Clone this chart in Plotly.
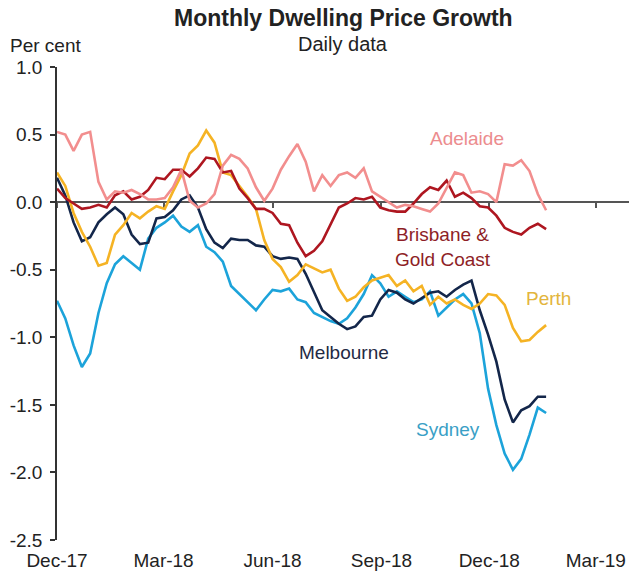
import pandas as pd
import plotly.graph_objects as go

# ---- data (weekly readings, per cent) ----
dates = pd.date_range("2017-12-01", periods=60, freq="7D")

sydney = [-0.73, -0.86, -1.06, -1.22, -1.12, -0.82, -0.60, -0.46, -0.40, -0.45,
          -0.50, -0.27, -0.19, -0.15, -0.10, -0.18, -0.22, -0.17, -0.33, -0.37,
          -0.44, -0.62, -0.68, -0.74, -0.80, -0.72, -0.65, -0.66, -0.64, -0.72,
          -0.74, -0.82, -0.85, -0.88, -0.90, -0.86, -0.78, -0.68, -0.54, -0.60,
          -0.70, -0.66, -0.70, -0.74, -0.72, -0.66, -0.84, -0.78, -0.72, -0.68,
          -0.75, -0.97, -1.38, -1.65, -1.86, -1.98, -1.90, -1.72, -1.52, -1.56]

melbourne = [0.18, 0.05, -0.15, -0.29, -0.26, -0.15, -0.09, -0.04, -0.09, -0.24,
             -0.31, -0.30, -0.12, -0.11, -0.06, 0.02, 0.05, -0.04, -0.20, -0.30,
             -0.34, -0.27, -0.28, -0.28, -0.32, -0.33, -0.40, -0.42, -0.41, -0.42,
             -0.53, -0.66, -0.80, -0.85, -0.90, -0.94, -0.92, -0.85, -0.84, -0.72,
             -0.65, -0.67, -0.72, -0.75, -0.71, -0.67, -0.66, -0.70, -0.65, -0.61,
             -0.58, -0.80, -0.98, -1.18, -1.46, -1.63, -1.54, -1.51, -1.44, -1.44]

perth = [0.22, 0.12, -0.08, -0.22, -0.33, -0.47, -0.45, -0.24, -0.17, -0.08,
         -0.12, -0.07, -0.03, -0.05, 0.08, 0.20, 0.36, 0.42, 0.53, 0.44,
         0.22, 0.20, 0.12, 0.04, -0.05, -0.28, -0.42, -0.48, -0.59, -0.54,
         -0.46, -0.49, -0.52, -0.50, -0.64, -0.73, -0.70, -0.63, -0.58, -0.56,
         -0.54, -0.62, -0.58, -0.66, -0.62, -0.76, -0.70, -0.75, -0.72, -0.76,
         -0.79, -0.75, -0.68, -0.69, -0.76, -0.93, -1.03, -1.02, -0.96, -0.91]

brisbane = [0.10, 0.03, -0.01, -0.05, -0.04, -0.02, -0.04, 0.05, 0.08, 0.02,
            0.04, 0.09, 0.18, 0.17, 0.24, 0.24, 0.19, 0.25, 0.33, 0.32,
            0.22, 0.23, 0.10, 0.03, -0.05, -0.05, -0.08, -0.16, -0.17, -0.30,
            -0.40, -0.36, -0.29, -0.16, -0.04, -0.01, 0.03, 0.02, 0.04, -0.04,
            -0.06, -0.07, -0.07, -0.01, 0.06, 0.11, 0.09, 0.16, 0.04, 0.07,
            0.03, -0.03, -0.04, -0.10, -0.19, -0.22, -0.24, -0.19, -0.16, -0.20]

adelaide = [0.52, 0.50, 0.38, 0.50, 0.52, 0.15, 0.02, 0.08, 0.07, 0.09,
            0.06, 0.02, 0.02, 0.03, 0.11, 0.24, 0.01, -0.04, -0.01, 0.06,
            0.27, 0.35, 0.32, 0.25, 0.11, 0.01, 0.10, 0.24, 0.34, 0.43,
            0.30, 0.08, 0.20, 0.12, 0.20, 0.22, 0.18, 0.25, 0.08, 0.04,
            0.00, -0.04, -0.02, -0.03, -0.05, -0.07, -0.01, 0.11, 0.22, 0.20,
            0.07, 0.08, 0.06, 0.00, 0.28, 0.27, 0.31, 0.23, 0.06, -0.06]

tick_dates = ["2017-12-01", "2018-03-01", "2018-06-01", "2018-09-01",
              "2018-12-01", "2019-03-01"]
tick_labels = ["Dec-17", "Mar-18", "Jun-18", "Sep-18", "Dec-18", "Mar-19"]
y_ticks = [1.0, 0.5, 0.0, -0.5, -1.0, -1.5, -2.0, -2.5]
y_tick_labels = ["1.0", "0.5", "0.0", "-0.5", "-1.0", "-1.5", "-2.0", "-2.5"]

x_range = ["2017-12-01", "2019-03-29"]
y_range = [-2.5, 1.0]

FONT = "Liberation Sans, Arial, sans-serif"

fig = go.Figure()

series = [
    ("Sydney", sydney, "#1CA3DA", "x"),
    ("Melbourne", melbourne, "#13264A", "x"),
    ("Perth", perth, "#F5B324", "x"),
    ("Brisbane & Gold Coast", brisbane, "#AE1620", "x"),
    ("Adelaide", adelaide, "#F28E8E", "x2"),
]
for name, vals, col, xa in series:
    fig.add_trace(go.Scatter(x=dates, y=vals, mode="lines", name=name,
                             xaxis=xa, yaxis="y",
                             line=dict(color=col, width=2.6),
                             hoverinfo="skip"))

labels = [
    ("Adelaide", "2018-11-12", 0.47, "#EC8C8E"),
    ("Brisbane &<br>Gold Coast", "2018-10-23", -0.33, "#8E1E26"),
    ("Perth", "2019-01-20", -0.71, "#E3B53C"),
    ("Melbourne", "2018-07-31", -1.11, "#1F2A44"),
    ("Sydney", "2018-10-27", -1.68, "#3A9FC6"),
]
for txt, xd, yv, col in labels:
    fig.add_annotation(x=xd, y=yv, xref="x", yref="y", text=txt,
                       showarrow=False, font=dict(family=FONT, size=19, color=col),
                       xanchor="center", yanchor="middle")

fig.add_annotation(text="<b>Monthly Dwelling Price Growth</b>", xref="paper", yref="paper",
                   x=0.5, y=1, yshift=49, showarrow=False, xanchor="center", yanchor="middle",
                   font=dict(family=FONT, size=23, color="#222"))
fig.add_annotation(text="Daily data", xref="paper", yref="paper",
                   x=0.5, y=1, yshift=23, showarrow=False, xanchor="center", yanchor="middle",
                   font=dict(family=FONT, size=20, color="#222"))
fig.add_annotation(text="Per cent", xref="paper", yref="paper",
                   x=0, xshift=-49, y=1, yshift=22, showarrow=False, xanchor="left", yanchor="middle",
                   font=dict(family=FONT, size=19, color="#222"))

fig.update_layout(
    width=630, height=575,
    margin=dict(l=57, r=1, t=67, b=35),
    paper_bgcolor="white", plot_bgcolor="white",
    showlegend=False,
    font=dict(family=FONT, size=19, color="#222"),
    xaxis=dict(type="date", range=x_range, tickvals=tick_dates, ticktext=tick_labels,
               showline=False, showgrid=False, zeroline=False, ticks="",
               tickfont=dict(size=19, color="#222"), ticklabelstandoff=7),
    xaxis2=dict(type="date", range=x_range, overlaying="x", anchor="free",
                position=(0 - y_range[0]) / (y_range[1] - y_range[0]),
                tickvals=tick_dates, showticklabels=False, showgrid=False, zeroline=False,
                showline=True, linecolor="#555", linewidth=2,
                ticks="outside", ticklen=5, tickwidth=2, tickcolor="#555",
                layer="below traces"),
    yaxis=dict(range=y_range, tickvals=y_ticks, ticktext=y_tick_labels,
               showline=True, linecolor="#333", linewidth=1.5,
               ticks="outside", ticklen=5, tickwidth=1.5, tickcolor="#333",
               showgrid=False, zeroline=False,
               tickfont=dict(size=19, color="#222"), ticklabelstandoff=4),
)

fig.write_html("out.html", config={"displayModeBar": False},
               post_script="document.body.style.margin='0';")
